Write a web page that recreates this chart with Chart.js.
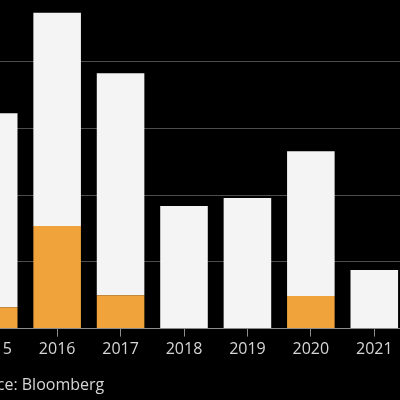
<!DOCTYPE html>
<html>
<head>
<meta charset="utf-8">
<script src="https://cdn.jsdelivr.net/npm/chart.js@4/dist/chart.umd.min.js"></script>
<style>
  html, body { margin: 0; padding: 0; background: #000; overflow: hidden; width: 400px; height: 400px; }
  /* the reference is a crop of a wider chart, so the canvas sticks out on the left */
  #wrap { position: absolute; left: -38px; top: 0; width: 444px; height: 400px; }
</style>
</head>
<body>
<div id="wrap"><canvas id="c"></canvas></div>
<script>
'use strict';

// data (one gridline step = 10)
const categories = ['2015', '2016', '2017', '2018', '2019', '2020', '2021'];
const orangeValues = [3.2, 15.4, 5.0, 0, 0, 4.9, 0];
const whiteValues = [29.1, 32.0, 33.3, 18.4, 19.6, 21.7, 8.8];
const yStep = 10;
const yMax = 49.3;

const COLORS = {
  orange: '#f0a23b',
  white: '#f4f4f4',
  grid: '#4d4d4d',
  axis: '#8c8c8c',
  text: '#d6d6d6',
};

new Chart(document.getElementById('c'), {
  type: 'bar',
  data: {
    labels: categories,
    datasets: [
      { label: 'Orange', data: orangeValues, backgroundColor: COLORS.orange, borderWidth: 0 },
      { label: 'White', data: whiteValues, backgroundColor: COLORS.white, borderWidth: 0 },
    ],
  },
  options: {
    responsive: true,
    maintainAspectRatio: false,
    animation: false,
    layout: { padding: 0 },
    datasets: { bar: { categoryPercentage: 1, barPercentage: 0.75 } },
    plugins: {
      legend: { display: false },
      tooltip: { enabled: false },
      title: {
        display: true,
        position: 'bottom',
        align: 'start',
        text: 'Source: Bloomberg',
        color: COLORS.text,
        font: { family: '"Open Sans", sans-serif', size: 16, weight: 'normal' },
        padding: { top: 14, bottom: 5 },
      },
    },
    scales: {
      x: {
        stacked: true,
        grid: { offset: false, drawOnChartArea: false, drawTicks: true, tickLength: 8, color: COLORS.axis },
        border: { display: true, color: COLORS.axis, width: 1 },
        ticks: { color: COLORS.text, padding: 3, maxRotation: 0, font: { family: '"Open Sans", sans-serif', size: 16 } },
      },
      y: {
        stacked: true,
        min: 0,
        max: yMax,
        ticks: { display: false, stepSize: yStep },
        border: { display: false },
        grid: {
          drawTicks: false,
          color: (ctx) => (ctx.tick && ctx.tick.value > 0 && ctx.tick.value % yStep === 0) ? COLORS.grid : 'transparent',
        },
      },
    },
  },
});
</script>
</body>
</html>
